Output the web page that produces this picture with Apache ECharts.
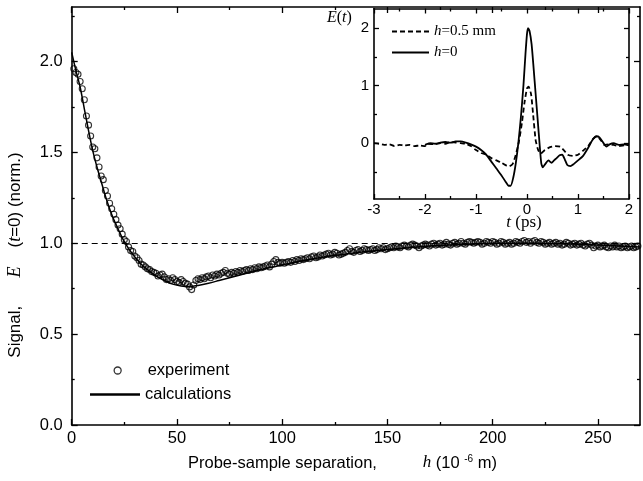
<!DOCTYPE html>
<html><head><meta charset="utf-8">
<script src="https://cdn.jsdelivr.net/npm/echarts@6/dist/echarts.min.js"></script>
<style>html,body{margin:0;padding:0;background:#fff}#c{width:643px;height:481px}</style>
</head><body><div id="c"></div>
<script>
// ---- main chart: experiment (h in 1e-6 m, normalised signal) ----
const expData = [
[1,1.96],[2,1.94],[3,1.93],[4,1.89],[5,1.85],[6,1.79],[7,1.70],[8,1.65],[9,1.59],[10,1.53],
[11,1.52],[12,1.47],[13,1.42],[14,1.37],[15,1.35],[16,1.29],[17,1.26],[18,1.22],[19,1.19],[20,1.16],
[21,1.13],[22,1.10],[23,1.08],[24,1.05],[25,1.02],[26,1.01],[27,0.98],[28,0.96],[29,0.955],[30,0.93],
[31,0.92],[32,0.905],[33,0.885],[34,0.88],[35,0.87],[36,0.86],[37,0.855],[38,0.845],[39,0.84],[40,0.835],
[41,0.82],[42,0.825],[43,0.83],[44,0.815],[45,0.80],[46,0.805],[47,0.795],[48,0.81],[49,0.80],[50,0.79],
[51,0.785],[52,0.80],[53,0.79],[54,0.78],[55,0.775],[56,0.76],[57,0.745],[58,0.77],[59,0.795],[60,0.805],
[61,0.80],[62,0.81],[63,0.805],[64,0.815],[65,0.82],[66,0.81],[67,0.825],[68,0.82],[69,0.83],[70,0.825],
[71,0.835],[72,0.84],[73,0.85],[74,0.835],[75,0.83],[76,0.84],[77,0.835],[78,0.845],[79,0.84],[80,0.85],
[81,0.845],[82,0.85],[83,0.855],[84,0.85],[85,0.86],[86,0.855],[87,0.865],[88,0.86],[89,0.87],[90,0.865],
[91,0.87],[92,0.875],[93,0.88],[94,0.87],[95,0.885],[96,0.90],[97,0.91],[98,0.895],[99,0.89],[100,0.895],
[101,0.89],[102,0.895],[103,0.90],[104,0.895],[105,0.905],[106,0.90],[107,0.91],[108,0.905],[109,0.915],[110,0.91],
[111,0.915],[112,0.92],[113,0.915],[114,0.925],[115,0.93],[116,0.92],[117,0.925],[118,0.935],[119,0.93],[120,0.935],
[121,0.94],[122,0.945],[123,0.935],[124,0.94],[125,0.95],[126,0.945],[127,0.935],[128,0.94],[129,0.945],[130,0.95],
[131,0.96],[132,0.97],[133,0.955],[134,0.95],[135,0.96],[136,0.965],[137,0.955],[138,0.96],[139,0.97],[140,0.965],
[141,0.96],[142,0.965],[143,0.97],[144,0.96],[145,0.965],[146,0.975],[147,0.97],[148,0.975],[149,0.965],[150,0.97],
[151,0.975],[152,0.98],[153,0.975],[154,0.985],[155,0.98],[156,0.975],[157,0.985],[158,0.99],[159,0.985],[160,0.98],
[161,0.99],[162,0.995],[163,0.99],[164,0.985],[165,0.975],[166,0.985],[167,0.99],[168,0.995],[169,0.99],[170,0.985],
[171,0.995],[172,1.00],[173,0.99],[174,0.995],[175,1.00],[176,0.99],[177,0.995],[178,1.005],[179,0.995],[180,0.99],
[181,1.00],[182,1.005],[183,0.995],[184,1.00],[185,1.01],[186,1.00],[187,0.995],[188,1.005],[189,1.01],[190,1.005],
[191,1.00],[192,1.005],[193,1.01],[194,1.005],[195,0.995],[196,1.00],[197,1.01],[198,1.005],[199,1.00],[200,1.01],
[201,1.005],[202,0.995],[203,1.00],[204,1.01],[205,1.005],[206,0.995],[207,1.00],[208,1.005],[209,0.995],[210,1.00],
[211,1.01],[212,1.005],[213,1.00],[214,1.01],[215,1.015],[216,1.005],[217,1.01],[218,1.00],[219,1.01],[220,1.015],
[221,1.005],[222,1.00],[223,1.01],[224,1.005],[225,0.995],[226,1.00],[227,1.005],[228,0.995],[229,1.00],[230,1.005],
[231,0.995],[232,1.00],[233,0.99],[234,0.995],[235,1.005],[236,1.00],[237,0.99],[238,0.995],[239,1.00],[240,0.99],
[241,0.995],[242,1.00],[243,0.99],[244,0.985],[245,0.995],[246,1.00],[247,0.99],[248,0.975],[249,0.985],[250,0.99],
[251,0.98],[252,0.985],[253,0.99],[254,0.98],[255,0.975],[256,0.985],[257,0.98],[258,0.99],[259,0.98],[260,0.985],
[261,0.975],[262,0.98],[263,0.985],[264,0.975],[265,0.98],[266,0.985],[267,0.975],[268,0.98],[269,0.985]
];
// ---- main chart: calculation ----
const calcData = [
[0,2.05],[2,1.95],[4,1.86],[6,1.74],[8,1.62],[10,1.51],[12,1.42],[14,1.34],[16,1.26],[18,1.19],
[20,1.13],[22,1.08],[24,1.03],[26,0.99],[28,0.955],[30,0.925],[33,0.885],[36,0.855],[40,0.82],[44,0.795],
[48,0.775],[52,0.765],[56,0.762],[60,0.768],[65,0.78],[70,0.795],[80,0.825],[90,0.855],[100,0.88],[110,0.905],
[120,0.925],[130,0.94],[140,0.955],[150,0.965],[160,0.975],[170,0.985],[180,0.99],[190,0.995],[200,1.0],[210,1.0],
[220,1.0],[230,0.998],[240,0.995],[250,0.99],[260,0.985],[270,0.98]
];
const refLevel = 1.0;
// ---- inset: E(t) waveforms ----
const insetDash = [
[-3,0.0],[-2.9,-0.01],[-2.8,-0.03],[-2.7,-0.02],[-2.6,-0.05],[-2.5,-0.03],[-2.4,-0.04],[-2.3,-0.03],[-2.2,-0.05],[-2.1,-0.04],
[-2.0,-0.05],[-1.95,-0.01],[-1.8,-0.02],[-1.7,0.0],[-1.6,-0.01],[-1.5,0.02],[-1.4,0.01],[-1.3,0.0],[-1.2,-0.01],[-1.1,-0.05],
[-1.0,-0.12],[-0.9,-0.17],[-0.8,-0.2],[-0.7,-0.26],[-0.6,-0.3],[-0.5,-0.34],[-0.4,-0.39],[-0.35,-0.4],[-0.28,-0.36],[-0.22,-0.2],
[-0.16,0.02],[-0.1,0.35],[-0.05,0.7],[0,0.95],[0.03,0.98],[0.08,0.85],[0.12,0.5],[0.17,0.05],[0.22,-0.12],[0.27,-0.18],
[0.35,-0.12],[0.45,-0.07],[0.55,-0.05],[0.65,-0.06],[0.72,-0.12],[0.8,-0.2],[0.9,-0.22],[1.0,-0.2],[1.1,-0.13],[1.2,-0.05],
[1.3,0.08],[1.37,0.12],[1.45,0.05],[1.52,-0.03],[1.6,-0.02],[1.7,-0.03],[1.8,-0.05],[1.9,-0.04],[2.0,-0.03]
];
const insetSolid = [
[-2.0,-0.03],[-1.9,0.0],[-1.8,-0.01],[-1.7,0.01],[-1.6,0.02],[-1.5,0.01],[-1.4,0.03],[-1.3,0.03],[-1.2,0.01],[-1.1,-0.02],
[-1.0,-0.06],[-0.9,-0.12],[-0.8,-0.2],[-0.7,-0.32],[-0.6,-0.44],[-0.5,-0.56],[-0.42,-0.67],[-0.36,-0.74],[-0.32,-0.74],[-0.27,-0.6],
[-0.22,-0.35],[-0.17,0.0],[-0.12,0.45],[-0.07,1.0],[-0.03,1.55],[0.0,1.9],[0.02,2.0],[0.05,1.95],[0.09,1.72],[0.13,1.3],
[0.17,0.85],[0.21,0.4],[0.25,-0.05],[0.28,-0.35],[0.31,-0.42],[0.36,-0.36],[0.42,-0.3],[0.48,-0.34],[0.53,-0.3],[0.58,-0.26],
[0.64,-0.21],[0.69,-0.2],[0.74,-0.28],[0.79,-0.38],[0.85,-0.4],[0.92,-0.36],[1.0,-0.3],[1.1,-0.22],[1.2,-0.08],[1.28,0.05],
[1.36,0.12],[1.42,0.1],[1.5,0.0],[1.56,-0.06],[1.62,-0.02],[1.7,0.0],[1.8,-0.03],[1.9,-0.02],[2.0,-0.04]
];
// ---- tick values ----
const mainXMajor = [0,50,100,150,200,250];
const mainXMinor = [25,75,125,175,225];
const mainYMajor = [0,0.5,1.0,1.5,2.0];
const mainYMinor = [0.25,0.75,1.25,1.75,2.25];
const insXMajor = [-3,-2,-1,0,1,2];
const insXMinor = [-2.5,-1.5,-0.5,0.5,1.5];
const insYMajor = [0,1,2];
const insYMinor = [-0.5,0.5,1.5];

const SANS = 'Liberation Sans, Arial, sans-serif';
const SERIF = 'Liberation Serif, Times New Roman, serif';
const ICON_LINE = 'path://M0,0h40v2h-40z';
const ICON_DASH = 'path://M0,0h5v2h-5z M8,0h5v2h-5z M16,0h5v2h-5z M24,0h5v2h-5z M32,0h5v2h-5z';

function ax(grid, pos, min, max, ticks, len, lineShow, label) {
  return {
    type:'value', gridIndex:grid, position:pos, min:min, max:max, offset:0,
    axisLine:{show:lineShow, onZero:false, lineStyle:{color:'#000', width:1.6}},
    axisTick:{show:true, inside:true, length:len, customValues:ticks, lineStyle:{color:'#000', width:1.3}},
    axisLabel: label ? Object.assign({show:true, color:'#000', fontFamily:SANS}, label) : {show:false},
    splitLine:{show:false}, minorTick:{show:false}
  };
}

const chart = echarts.init(document.getElementById('c'), null, {renderer:'canvas'});
chart.setOption({
  animation:false,
  backgroundColor:'#fff',
  grid:[
    {left:71.7, top:7, width:568.3, height:418},
    {left:374, top:8.5, width:255, height:190.5}
  ],
  xAxis:[
    ax(0,'bottom',0,270,mainXMajor,6,true,{customValues:mainXMajor, fontSize:16.5, margin:5}),
    ax(0,'bottom',0,270,mainXMinor,3,false,null),
    ax(0,'top',0,270,mainXMajor,6,true,null),
    ax(0,'top',0,270,mainXMinor,3,false,null),
    ax(1,'bottom',-3,2,insXMajor,5,true,{customValues:insXMajor, fontSize:15, margin:3}),
    ax(1,'bottom',-3,2,insXMinor,3,false,null),
    ax(1,'top',-3,2,insXMajor,5,true,null),
    ax(1,'top',-3,2,insXMinor,3,false,null)
  ],
  yAxis:[
    ax(0,'left',0,2.3,mainYMajor,6,true,{customValues:mainYMajor, fontSize:16.5, margin:9, formatter:v=>Number(v).toFixed(1)}),
    ax(0,'left',0,2.3,mainYMinor,3,false,null),
    ax(0,'right',0,2.3,mainYMajor,6,true,null),
    ax(0,'right',0,2.3,mainYMinor,3,false,null),
    ax(1,'left',-0.97,2.34,insYMajor,5,true,{customValues:insYMajor, fontSize:15, margin:5}),
    ax(1,'left',-0.97,2.34,insYMinor,3,false,null),
    ax(1,'right',-0.97,2.34,insYMajor,5,true,null),
    ax(1,'right',-0.97,2.34,insYMinor,3,false,null)
  ],
  legend:[
    {left:113.5, top:362, padding:0, itemWidth:50, itemHeight:7, selectedMode:false,
     textStyle:{fontFamily:SANS, fontSize:16.5, color:'#000'},
     data:[{name:'experiment', icon:'circle', itemStyle:{color:'rgba(0,0,0,0)', borderColor:'#000', borderWidth:1.3}}]},
    {left:90, top:386, padding:0, itemWidth:50, itemHeight:14, selectedMode:false,
     textStyle:{fontFamily:SANS, fontSize:16.5, color:'#000'},
     data:[{name:'calculations', icon:ICON_LINE, itemStyle:{color:'#000'}}]},
    {left:392, top:24, padding:0, orient:'vertical', itemWidth:37, itemHeight:12, itemGap:6, selectedMode:false,
     data:[{name:'h=0.5 mm', icon:ICON_DASH, itemStyle:{color:'#000'}}, {name:'h=0', icon:ICON_LINE, itemStyle:{color:'#000'}}],
     formatter: n => n==='h=0' ? '{i|h}=0' : '{i|h}=0.5 mm',
     textStyle:{fontFamily:SERIF, fontSize:15, color:'#000',
       rich:{i:{fontFamily:SERIF, fontStyle:'italic', fontSize:15, color:'#000'}}}}
  ],
  series:[
    {name:'calculations', type:'line', xAxisIndex:0, yAxisIndex:0, data:calcData, smooth:0.3,
     symbol:'none', showSymbol:false, lineStyle:{color:'#000', width:1.5}, itemStyle:{color:'#000'}, z:4,
     markLine:{silent:true, symbol:['none','none'], label:{show:false},
       lineStyle:{color:'#000', width:1, type:[6,4]}, data:[{yAxis:refLevel}]}},
    {name:'experiment', type:'scatter', xAxisIndex:0, yAxisIndex:0, data:expData, symbol:'circle', symbolSize:6,
     itemStyle:{color:'rgba(255,255,255,0)', borderColor:'#000', borderWidth:1.1}, z:3},
    {name:'h=0.5 mm', type:'line', xAxisIndex:4, yAxisIndex:4, data:insetDash, smooth:0.2, symbol:'none', showSymbol:false,
     lineStyle:{color:'#000', width:1.8, type:[5,3]}, itemStyle:{color:'#000'}},
    {name:'h=0', type:'line', xAxisIndex:4, yAxisIndex:4, data:insetSolid, smooth:0.2, symbol:'none', showSymbol:false,
     lineStyle:{color:'#000', width:1.8}, itemStyle:{color:'#000'}}
  ],
  graphic:[
    {type:'text', x:15, y:255, rotation:Math.PI/2,
     style:{text:'Signal,      {i|E}    ({i|t}=0) (norm.)', fontFamily:SANS, fontSize:17, fill:'#000',
       align:'center', verticalAlign:'middle',
       rich:{i:{fontFamily:SERIF, fontStyle:'italic', fontSize:18, fill:'#000'}}}},
    {type:'text', x:188, y:463,
     style:{text:'Probe-sample separation,          {i|h} (10 {sup|-6} m)', fontFamily:SANS, fontSize:16.5, fill:'#000',
       align:'left', verticalAlign:'middle',
       rich:{i:{fontFamily:SERIF, fontStyle:'italic', fontSize:17, fill:'#000'},
             sup:{fontFamily:SANS, fontSize:10, fill:'#000', verticalAlign:'top'}}}},
    {type:'text', x:327, y:18,
     style:{text:'{i|E}({i|t})', fontFamily:SERIF, fontSize:16, fill:'#000', align:'left', verticalAlign:'middle',
       rich:{i:{fontFamily:SERIF, fontStyle:'italic', fontSize:16, fill:'#000'}}}},
    {type:'text', x:524, y:223,
     style:{text:'{i|t} (ps)', fontFamily:SERIF, fontSize:17, fill:'#000', align:'center', verticalAlign:'middle',
       rich:{i:{fontFamily:SERIF, fontStyle:'italic', fontSize:17, fill:'#000'}}}}
  ]
});
</script></body></html>
